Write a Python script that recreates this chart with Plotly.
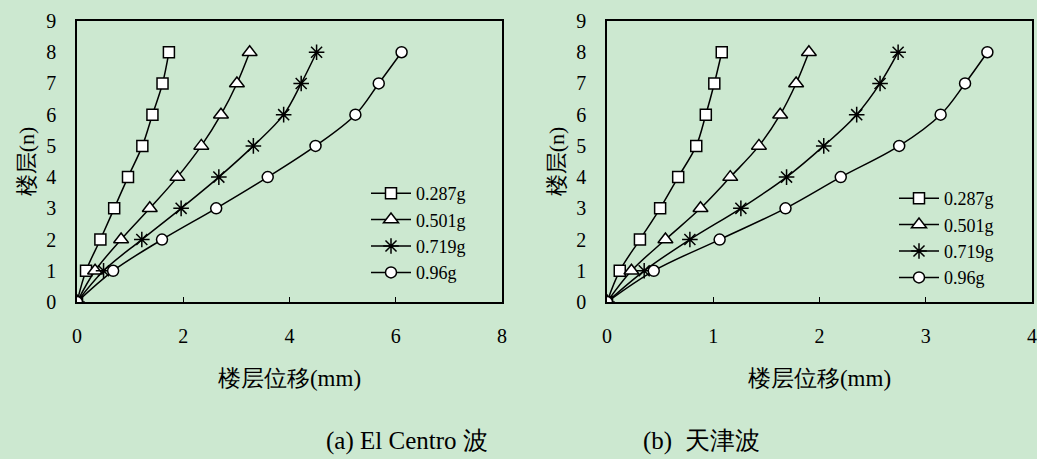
import plotly.graph_objects as go

floors = [0, 1, 2, 3, 4, 5, 6, 7, 8]
series_names = ["0.287g", "0.501g", "0.719g", "0.96g"]

# (a) El Centro wave: storey displacement (mm)
elcentro_0287 = [0, 0.17, 0.44, 0.70, 0.96, 1.23, 1.42, 1.61, 1.73]
elcentro_0501 = [0, 0.34, 0.83, 1.37, 1.89, 2.34, 2.71, 3.01, 3.25]
elcentro_0719 = [0, 0.50, 1.22, 1.96, 2.67, 3.32, 3.89, 4.22, 4.51]
elcentro_096 = [0, 0.68, 1.60, 2.62, 3.59, 4.49, 5.24, 5.68, 6.11]

# (b) Tianjin wave: storey displacement (mm)
tianjin_0287 = [0, 0.12, 0.31, 0.50, 0.67, 0.84, 0.93, 1.01, 1.08]
tianjin_0501 = [0, 0.23, 0.55, 0.88, 1.16, 1.43, 1.63, 1.78, 1.90]
tianjin_0719 = [0, 0.35, 0.78, 1.26, 1.69, 2.04, 2.35, 2.57, 2.74]
tianjin_096 = [0, 0.44, 1.06, 1.68, 2.20, 2.75, 3.14, 3.37, 3.58]

x_ticks_a = [0, 2, 4, 6, 8]
x_ticks_b = [0, 1, 2, 3, 4]
y_ticks = [0, 1, 2, 3, 4, 5, 6, 7, 8, 9]

x_title = "楼层位移(mm)"
y_title = "楼层(n)"
sub_a = "(a) El Centro 波"
sub_b = "(b)  天津波"

BG = "#CCE8D0"
SERIF = "'Times New Roman', 'Liberation Serif', 'DejaVu Serif', serif"

symbols = ["square", "triangle-up", "asterisk", "circle"]
sizes = [11, 13, 13, 11]

fig = go.Figure()

data_a = [elcentro_0287, elcentro_0501, elcentro_0719, elcentro_096]
data_b = [tianjin_0287, tianjin_0501, tianjin_0719, tianjin_096]

for i, (name, xs) in enumerate(zip(series_names, data_a)):
    fig.add_trace(go.Scatter(
        x=xs, y=floors, name=name, mode="lines+markers",
        line=dict(color="black", width=1.5, shape="spline"),
        marker=dict(symbol=symbols[i], size=sizes[i], color="white",
                    line=dict(color="black", width=1.5)),
        xaxis="x", yaxis="y", legend="legend"))

for i, (name, xs) in enumerate(zip(series_names, data_b)):
    fig.add_trace(go.Scatter(
        x=xs, y=floors, name=name, mode="lines+markers",
        line=dict(color="black", width=1.5, shape="spline"),
        marker=dict(symbol=symbols[i], size=sizes[i], color="white",
                    line=dict(color="black", width=1.5)),
        xaxis="x2", yaxis="y2", legend="legend2"))

W, H = 1037, 459
ytop = 1 - 21 / H
ybot = 1 - 302 / H

common_x = dict(showline=True, linecolor="black", linewidth=1.5, mirror=True,
                showgrid=False, zeroline=False, ticks="inside", ticklen=5,
                tickcolor="black", tickwidth=1, automargin=False,
                tickfont=dict(family=SERIF, size=20, color="black"),
                ticklabelstandoff=15,
                title=dict(text=x_title, font=dict(family=SERIF, size=23, color="black"),
                           standoff=24))
common_y = dict(showline=True, linecolor="black", linewidth=1.5, mirror=True,
                showgrid=False, zeroline=False, ticks="", range=[0, 9],
                tickvals=y_ticks, automargin=False,
                tickfont=dict(family=SERIF, size=20, color="black"),
                ticklabelstandoff=15,
                title=dict(text=y_title, font=dict(family=SERIF, size=22, color="black"),
                           standoff=6))

legend_common = dict(bgcolor="rgba(0,0,0,0)", font=dict(family=SERIF, size=18, color="black"),
                     xanchor="left", yanchor="top", tracegroupgap=0, itemwidth=40)

fig.update_layout(
    width=W, height=H,
    margin=dict(l=0, r=0, t=0, b=0, autoexpand=False),
    paper_bgcolor=BG, plot_bgcolor=BG,
    xaxis=dict(domain=[77 / W, 502 / W], range=[0, 8], tickvals=x_ticks_a, anchor="y", **common_x),
    yaxis=dict(domain=[ybot, ytop], anchor="x", **common_y),
    xaxis2=dict(domain=[607 / W, 1032 / W], range=[0, 4], tickvals=x_ticks_b, anchor="y2", **common_x),
    yaxis2=dict(domain=[ybot, ytop], anchor="x2", **common_y),
    legend=dict(x=366 / W, y=1 - 175 / H, **legend_common),
    legend2=dict(x=894 / W, y=1 - 180 / H, **legend_common),
    showlegend=True,
    annotations=[
        dict(text=sub_a, x=324 / W, y=1 - 441 / H, xref="paper", yref="paper",
             yanchor="middle", showarrow=False, font=dict(family=SERIF, size=25, color="black")),
        dict(text=sub_b, x=762 / W, y=1 - 441 / H, xref="paper", yref="paper",
             yanchor="middle", showarrow=False, font=dict(family=SERIF, size=25, color="black")),
    ],
)

fig.write_html("out.html")
